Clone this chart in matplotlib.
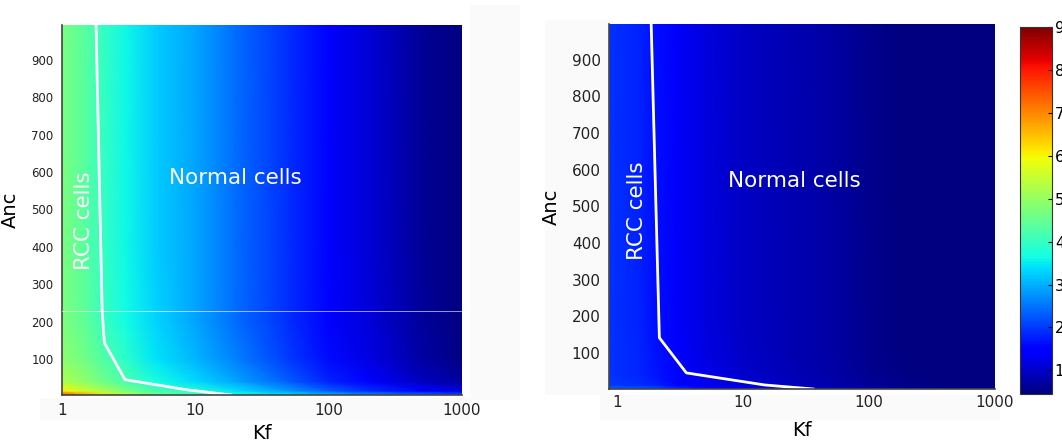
import numpy as np
import matplotlib
matplotlib.use('Agg')
import matplotlib.pyplot as plt

# grid nodes
kf = [1, 1.5, 2, 3, 5, 10, 20, 50, 100, 200, 500, 1000]
anc_left = [4, 15, 40, 100, 200, 400, 700, 993]
anc_right = [1, 12, 40, 100, 200, 400, 700, 1000]

# left panel values, rows = anc_left
vals_left = [
    [7.8, 6.8, 6.2, 5.3, 4.6, 4.2, 3.9, 3.4, 3.1, 2.8, 2.5, 2.2],
    [6.0, 5.5, 5.2, 4.7, 4.2, 3.8, 3.4, 2.8, 2.3, 1.9, 1.5, 1.2],
    [5.2, 4.9, 4.6, 4.2, 3.7, 3.35, 2.9, 2.3, 1.8, 1.4, 0.95, 0.7],
    [4.9, 4.6, 4.3, 3.9, 3.45, 3.05, 2.6, 2.0, 1.6, 1.2, 0.72, 0.5],
    [4.75, 4.4, 4.05, 3.65, 3.3, 2.9, 2.45, 1.9, 1.52, 1.12, 0.66, 0.45],
    [4.7, 4.35, 4.0, 3.6, 3.25, 2.9, 2.45, 1.9, 1.5, 1.1, 0.65, 0.45],
    [4.7, 4.35, 4.0, 3.6, 3.25, 2.9, 2.45, 1.9, 1.5, 1.1, 0.65, 0.45],
    [4.7, 4.35, 4.0, 3.6, 3.25, 2.9, 2.45, 1.9, 1.5, 1.1, 0.65, 0.45],
]

# right panel values, rows = anc_right
vals_right = [
    [2.4, 2.3, 2.2, 1.9, 1.6, 1.35, 1.15, 0.95, 0.8, 0.65, 0.52, 0.47],
    [2.0, 1.9, 1.8, 1.55, 1.3, 1.1, 0.95, 0.8, 0.64, 0.52, 0.47, 0.45],
    [1.95, 1.85, 1.7, 1.42, 1.22, 1.02, 0.9, 0.76, 0.6, 0.49, 0.45, 0.45],
    [1.95, 1.82, 1.66, 1.4, 1.2, 1.0, 0.88, 0.75, 0.58, 0.48, 0.45, 0.45],
    [1.95, 1.8, 1.63, 1.38, 1.18, 0.98, 0.86, 0.72, 0.56, 0.47, 0.45, 0.45],
    [1.95, 1.8, 1.63, 1.38, 1.18, 0.98, 0.86, 0.72, 0.56, 0.47, 0.45, 0.45],
    [1.95, 1.8, 1.63, 1.38, 1.18, 0.98, 0.86, 0.72, 0.56, 0.47, 0.45, 0.45],
    [1.95, 1.8, 1.63, 1.38, 1.18, 0.98, 0.86, 0.72, 0.56, 0.47, 0.45, 0.45],
]

# RCC / normal boundary
bound_kf_left = [1.8, 2.0, 2.08, 2.97, 8.6, 18.5]
bound_anc_left = [993, 230, 143, 45, 18, 4]
bound_kf_right = [1.86, 2.16, 3.54, 14.8, 36]
bound_anc_right = [998, 141, 45, 12, 1]

cb_ticks = [1, 2, 3, 4, 5, 6, 7, 8, 9]
vmin, vmax = 0.45, 9.0

fig = plt.figure(figsize=(10.62, 4.44), dpi=100)
W, H = 1062, 444


def box(x0, x1, ytop, ybot):
    return [x0 / W, (H - ybot) / H, (x1 - x0) / W, (ybot - ytop) / H]


# faint grey backgrounds of the pasted images
for r in [box(40, 470, 398, 420), box(470, 520, 5, 400), box(545, 608, 20, 395), box(600, 1000, 395, 420)]:
    fig.add_artist(plt.Rectangle((r[0], r[1]), r[2], r[3], transform=fig.transFigure,
                                 color='#fafafa', zorder=0, lw=0))

ax1 = fig.add_axes(box(62, 462, 25, 395))
ax2 = fig.add_axes(box(609, 995, 24, 389))

panels = [
    (ax1, anc_left, vals_left, bound_kf_left, bound_anc_left, (1, 1000), (4, 993), 8.5, 6, 4),
    (ax2, anc_right, vals_right, bound_kf_right, bound_anc_right, (0.86, 1000), (1, 998), 11, 4, 8),
]
for ax, anc, vals, bk, ba, xl, yl, yfs, xpad, xlpad in panels:
    xs = np.array(kf, dtype=float)
    xs[0] = min(xs[0], xl[0])  # stretch first column to the axes edge
    X, Y = np.meshgrid(xs, anc)
    mesh = ax.pcolormesh(X, Y, np.array(vals), cmap='jet', vmin=vmin, vmax=vmax,
                         shading='gouraud')
    ax.plot(bk, ba, color='white', lw=2)
    ax.set_xscale('log')
    ax.set_xlim(*xl)
    ax.set_ylim(*yl)
    ax.set_xticks([1, 10, 100, 1000])
    ax.set_xticklabels(['1', '10', '100', '1000'])
    ax.xaxis.set_minor_locator(matplotlib.ticker.NullLocator())
    ax.set_yticks([100, 200, 300, 400, 500, 600, 700, 800, 900])
    ax.tick_params(axis='y', length=0, labelsize=yfs, pad=6, labelcolor='#222222')
    ax.tick_params(axis='x', length=0, labelsize=11, pad=xpad, labelcolor='#222222')
    for s in ['top', 'right']:
        ax.spines[s].set_visible(False)
    for s in ['left', 'bottom']:
        ax.spines[s].set_color('#444444')
        ax.spines[s].set_linewidth(1.2)
    ax.set_xlabel('Kf', fontsize=14, labelpad=xlpad)
    ax.set_ylabel('Anc', fontsize=14, labelpad=8)

ax1.text(1.45, 470, 'RCC cells', color='white', fontsize=15.5, rotation=90, ha='center', va='center')
ax1.text(20, 585, 'Normal cells', color='white', fontsize=15.5, ha='center', va='center')
ax2.text(1.44, 488, 'RCC cells', color='white', fontsize=15.5, rotation=90, ha='center', va='center')
ax2.text(25.7, 570, 'Normal cells', color='white', fontsize=15.5, ha='center', va='center')

# stitching artefact line in left panel
fig.add_artist(plt.Line2D([62 / W, 472 / W], [(H - 311) / H] * 2, color='white', lw=0.6,
                          alpha=0.7, transform=fig.transFigure))

cax = fig.add_axes(box(1020, 1052, 27, 394))
cb = fig.colorbar(mesh, cax=cax, ticks=cb_ticks)
cb.ax.tick_params(labelsize=11, length=3, direction='in', pad=2)
cb.outline.set_edgecolor('#333333')

fig.savefig('out.png', dpi=100)
